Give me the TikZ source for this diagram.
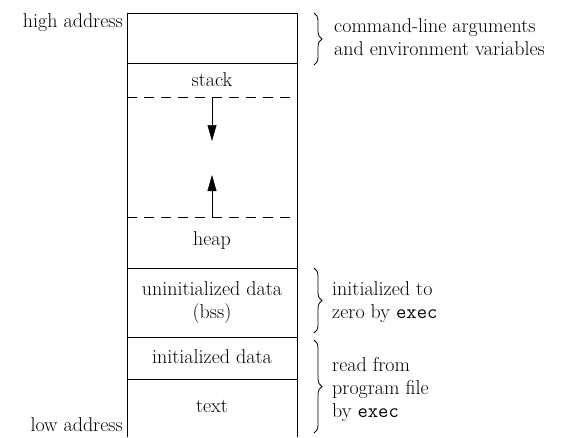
\documentclass[tikz,border=0pt]{standalone}
\usepackage{tikz}
\usetikzlibrary{positioning,arrows.meta,decorations.pathreplacing,calc}

\begin{document}
\begin{tikzpicture}[x=1pt, y=-1pt, >={Triangle[length=16pt, width=9pt]},
  seg/.style={line width=0.8pt},
  gap/.style={line width=0.8pt, dash pattern=on 10pt off 7pt},
  growarr/.style={line width=0.5pt},
  lbl/.style={font=\fontsize{20}{23}\selectfont, inner sep=0pt},
  note/.style={font=\fontsize{20}{23}\selectfont, align=left, anchor=west, inner sep=0pt},
  brc/.style={decorate, decoration={brace, amplitude=8pt}, line width=0.8pt}]
  \useasboundingbox (0,0) rectangle (577,437);
  % memory block
  \coordinate (bl) at (127,437);
  \coordinate (tl) at (127,13);
  \coordinate (tr) at (297,13);
  \coordinate (br) at (297,437);
  \draw[seg] (bl) -- (tl) -- (tr) -- (br);
  \draw[seg] (127,63) -- (297,63);
  \draw[gap] (127,97) -- (297,97);
  \draw[gap] (127,217) -- (297,217);
  \draw[seg] (127,268) -- (297,268);
  \draw[seg] (127,337) -- (297,337);
  \draw[seg] (127,379) -- (297,379);
  % segment names
  \node[lbl, anchor=base] (stk) at (212,86) {stack};
  \node[lbl, anchor=base] (hp) at (212,245) {heap};
  \node[lbl, anchor=base] (bss1) at (212,295) {uninitialized data};
  \node[lbl, anchor=base] (bss2) at (212,318) {(bss)};
  \node[lbl, anchor=base] (dat) at (212,363) {initialized data};
  \node[lbl, anchor=base] (txt) at (212,412) {text};
  \node[lbl, anchor=base east] (hi) at (123,27) {high address};
  \node[lbl, anchor=base east] (lo) at (123,431) {low address};
  % growth arrows
  \coordinate (sd0) at (212,97);
  \coordinate (sd1) at (212,141);
  \coordinate (hu0) at (212,217);
  \coordinate (hu1) at (212,175);
  \draw[growarr, ->] (sd0) -- (sd1);
  \draw[growarr, ->] (hu0) -- (hu1);
  % braces and notes
  \coordinate (b1a) at (314,13);
  \coordinate (b1b) at (314,65);
  \coordinate (b2a) at (314,268);
  \coordinate (b2b) at (314,333);
  \coordinate (b3a) at (314,340);
  \coordinate (b3b) at (314,433);
  \draw[brc] (b1a) -- (b1b);
  \draw[brc] (b2a) -- (b2b);
  \draw[brc] (b3a) -- (b3b);
  \node[note] (env) at (334,37) {command-line arguments\\and environment variables};
  \node[note] (zer) at (332,302) {initialized to\\zero by \texttt{exec}};
  \node[note] (rd) at (332,389) {read from\\program file\\by \texttt{exec}};
\end{tikzpicture}
\end{document}
